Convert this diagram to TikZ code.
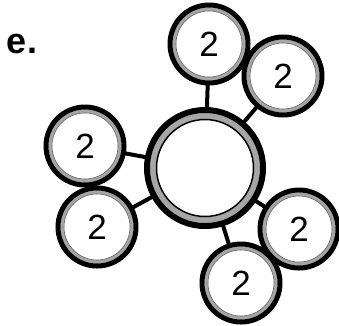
\documentclass[tikz,border=0pt]{standalone}
\usepackage{fontspec}
\setmainfont{Liberation Sans}
\usetikzlibrary{backgrounds}
\tikzset{
  ringsmall/.style={circle, draw=black, fill=white, line width=5pt,
    minimum size=78pt, inner sep=0pt,
    font=\fontsize{35}{35}\selectfont,
    path picture={
      \draw[black!35, line width=3.5pt] (path picture bounding box.center) circle (34.75pt);
      \draw[black!60, line width=0.6pt] (path picture bounding box.center) circle (33pt);
    }},
  ringbig/.style={circle, draw=black, fill=white, line width=6pt,
    minimum size=116pt, inner sep=0pt,
    path picture={
      \draw[black!35, line width=6pt] (path picture bounding box.center) circle (52pt);
      \draw[black, line width=1.5pt] (path picture bounding box.center) circle (48.5pt);
    }},
  link/.style={draw=black, line width=4pt},
  lbl/.style={font=\bfseries\fontsize{36}{36}\selectfont, inner sep=0pt}
}
\begin{document}
\begin{tikzpicture}[x=1pt,y=-1pt]
\useasboundingbox (0,0) rectangle (339,325);
\node[lbl] (e) at (22,44) {e.};
\node[ringbig] (c) at (205,168) {};
\node[ringsmall] (t) at (209,44) {2};
\node[ringsmall] (tr) at (283,76) {2};
\node[ringsmall] (l) at (85,146) {2};
\node[ringsmall] (ll) at (97,227) {2};
\node[ringsmall] (r) at (299,229) {2};
\node[ringsmall] (b) at (241,283) {2};
\begin{scope}[on background layer]
\draw[link] (c.center) -- (t.center);
\draw[link] (c.center) -- (tr.center);
\draw[link] (c.center) -- (l.center);
\draw[link] (c.center) -- (ll.center);
\draw[link] (c.center) -- (r.center);
\draw[link] (c.center) -- (b.center);
\end{scope}
\end{tikzpicture}
\end{document}
